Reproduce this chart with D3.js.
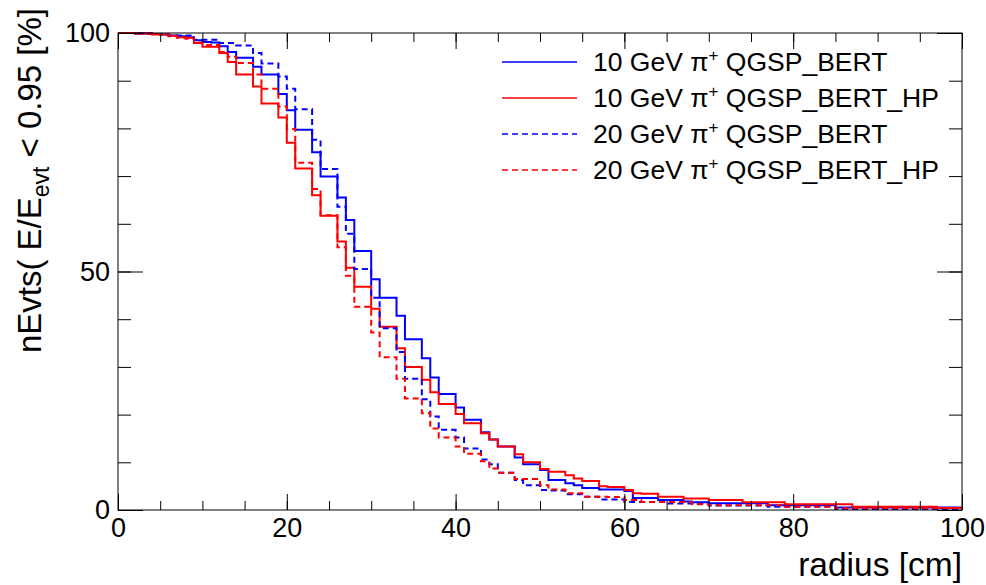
<html>
<head>
<title>nEvts vs radius</title>
<style>
body {
	margin: 0;
	background: white;
	font-family: 'Liberation Sans', Arial, sans-serif;
}
svg text {
	fill: black;
}
.axis path.domain {
	display: none;
}
.axis line {
	stroke: black;
	stroke-width: 1;
}
</style>
</head>
<body>
<svg width="986" height="585"></svg>
<script src="https://d3js.org/d3.v7.min.js"></script>
<script>
// bin lower edges, 1 cm wide, plus the closing edge at 100
const binEdges = d3.range(0, 101);

const xMajor = [0, 20, 40, 60, 80, 100];
const xMinor = d3.range(0, 101, 5);
const yMajor = [0, 50, 100];
const yMinor = d3.range(0, 101, 10);

// 10 GeV pi+ QGSP_BERT
const bert10 = [
	100, 100, 99.9, 99.9, 99.8, 99.7, 99.5, 99.3, 99.1, 98.5,
	98.1, 98.0, 97.2, 96.0, 94.8, 94.8, 92.9, 91.3, 91.3, 87.2,
	83.8, 79.7, 79.7, 75.0, 69.9, 69.9, 65.5, 60.8, 54.3, 54.3,
	48.4, 44.5, 44.5, 40.7, 35.8, 35.8, 31.8, 27.8, 24.3, 24.3,
	21.5, 18.9, 18.9, 16.3, 14.8, 13.3, 13.3, 11.0, 9.6, 9.6,
	8.4, 6.3, 6.3, 5.6, 5.2, 4.6, 4.6, 4.3, 4.3, 4.3,
	4.0, 2.5, 2.5, 2.5, 2.1, 2.1, 2.1, 1.8, 1.6, 1.6,
	1.4, 1.4, 1.4, 1.4, 1.4, 1.4, 1.4, 1.0, 1.0, 1.0,
	1.0, 1.0, 1.0, 1.0, 1.0, 0.5, 0.5, 0.5, 0.5, 0.5,
	0.5, 0.5, 0.5, 0.5, 0.5, 0.5, 0.5, 0.5, 0.5, 0.5
];
// 10 GeV pi+ QGSP_BERT_HP
const hp10 = [
	100, 100, 99.9, 99.9, 99.7, 99.7, 99.4, 99.1, 99.0, 97.9,
	97.1, 97.1, 95.8, 93.9, 91.3, 91.3, 88.8, 85.2, 85.2, 82.3,
	77.0, 71.6, 71.6, 66.0, 61.7, 61.7, 56.3, 50.8, 46.8, 46.8,
	42.2, 38.4, 38.4, 33.9, 30.0, 30.0, 27.3, 24.7, 22.2, 22.2,
	20.1, 18.2, 18.2, 16.1, 14.8, 13.3, 13.3, 11.7, 10.0, 10.0,
	8.6, 8.0, 8.0, 7.3, 6.6, 6.1, 6.1, 5.0, 4.8, 4.8,
	4.2, 3.5, 3.4, 3.4, 2.8, 2.8, 2.8, 2.4, 2.4, 2.4,
	2.1, 2.1, 2.1, 2.1, 1.6, 1.6, 1.6, 1.6, 1.6, 1.2,
	1.2, 1.2, 1.2, 1.2, 1.2, 1.2, 1.2, 0.7, 0.7, 0.7,
	0.7, 0.7, 0.7, 0.7, 0.7, 0.7, 0.7, 0.4, 0.4, 0.4
];
// 20 GeV pi+ QGSP_BERT
const bert20 = [
	100, 100, 100, 99.9, 99.8, 99.7, 99.5, 99.5, 99.5, 98.6,
	98.6, 98.6, 97.9, 97.9, 97.4, 97.4, 95.8, 93.6, 93.6, 90.9,
	88.3, 84.0, 84.0, 77.6, 71.5, 71.5, 63.6, 57.9, 50.5, 50.5,
	44.5, 38.1, 38.1, 33.1, 27.5, 27.5, 23.2, 19.6, 16.8, 16.8,
	15.2, 12.9, 12.9, 10.6, 9.6, 7.8, 7.8, 6.3, 5.2, 5.2,
	4.2, 4.1, 4.1, 3.3, 3.3, 2.8, 2.8, 2.2, 2.2, 2.2,
	1.7, 1.7, 1.7, 1.7, 1.7, 1.35, 1.35, 1.35, 1.35, 1.35,
	0.95, 0.95, 0.95, 0.95, 0.95, 0.95, 0.95, 0.7, 0.7, 0.7,
	0.7, 0.7, 0.7, 0.7, 0.7, 0.2, 0.2, 0.2, 0.2, 0.2,
	0.2, 0.2, 0.2, 0.2, 0.2, 0.2, 0.2, 0.2, 0.2, 0.2
];
// 20 GeV pi+ QGSP_BERT_HP
const hp20 = [
	100, 100, 99.9, 99.9, 99.8, 99.6, 99.3, 99.0, 98.8, 98.0,
	97.5, 97.5, 96.0, 95.0, 93.7, 93.7, 91.3, 88.3, 88.3, 84.6,
	79.9, 72.8, 72.8, 67.3, 61.8, 61.8, 55.1, 49.1, 42.6, 42.6,
	37.2, 32.0, 32.0, 27.5, 23.4, 23.4, 20.3, 17.1, 15.2, 15.2,
	13.3, 11.8, 11.8, 10.2, 8.7, 7.8, 7.8, 6.5, 6.5, 6.5,
	5.2, 4.3, 4.3, 3.5, 3.5, 2.8, 2.8, 2.8, 2.7, 2.7,
	2.1, 2.1, 1.7, 1.7, 1.7, 1.7, 1.7, 1.7, 1.2, 1.2,
	1.0, 1.0, 1.0, 1.0, 1.0, 1.0, 1.0, 1.0, 1.0, 0.7,
	0.7, 0.7, 0.7, 0.7, 0.7, 0.35, 0.35, 0.35, 0.35, 0.35,
	0.35, 0.35, 0.35, 0.35, 0.35, 0.35, 0.35, 0.35, 0.35, 0.35
];

const seriesNames = ["10 GeV π", "10 GeV π", "20 GeV π", "20 GeV π"];
const seriesTails = [" QGSP_BERT", " QGSP_BERT_HP", " QGSP_BERT", " QGSP_BERT_HP"];
const seriesData = [bert10, hp10, bert20, hp20];
const seriesColors = ["#0000ff", "#ff0000", "#0000ff", "#ff0000"];
const seriesDash = [null, null, "6,4", "6,4"];

let svg = d3.select("svg");
let x = d3.scaleLinear().domain([0, 100]).range([118, 962]);
let y = d3.scaleLinear().domain([0, 100]).range([510, 33]);

// histogram outlines
let step = d3.line()
	.x(function(d, i) { return x(binEdges[i]); })
	.y(function(d) { return y(d); })
	.curve(d3.curveStepAfter);

seriesData.forEach(function(vals, k) {
	svg.append("path")
		.datum(vals.concat([vals[vals.length - 1]]))
		.attr("d", step)
		.attr("fill", "none")
		.attr("stroke", seriesColors[k])
		.attr("stroke-width", 2)
		.attr("stroke-dasharray", seriesDash[k]);
});

// frame
svg.append("rect")
	.attr("x", x(0)).attr("y", y(100))
	.attr("width", x(100) - x(0)).attr("height", y(0) - y(100))
	.attr("fill", "none").attr("stroke", "black").attr("stroke-width", 1);

// axes, ticks pointing inwards, mirrored on top and right
function addAxis(axis, tx, ty, labels) {
	let g = svg.append("g").attr("class", "axis")
		.attr("transform", "translate(" + tx + "," + ty + ")")
		.call(axis);
	if (!labels) g.selectAll("text").remove();
	return g;
}
addAxis(d3.axisBottom(x).tickValues(xMinor).tickSize(-9), 0, y(0), false);
addAxis(d3.axisTop(x).tickValues(xMinor).tickSize(-9), 0, y(100), false);
addAxis(d3.axisTop(x).tickValues(xMajor).tickSize(-16), 0, y(100), false);
let gx = addAxis(d3.axisBottom(x).tickValues(xMajor).tickSize(-16).tickPadding(8), 0, y(0), true);

addAxis(d3.axisLeft(y).tickValues(yMinor).tickSize(-13), x(0), 0, false);
addAxis(d3.axisRight(y).tickValues(yMinor).tickSize(-13), x(100), 0, false);
addAxis(d3.axisRight(y).tickValues(yMajor).tickSize(-25), x(100), 0, false);
let gy = addAxis(d3.axisLeft(y).tickValues(yMajor).tickSize(-25).tickPadding(8), x(0), 0, true);

svg.selectAll(".axis text")
	.style("font-family", "'Liberation Sans', Arial, sans-serif")
	.style("font-size", "27px")
	.attr("fill", "black");

// axis titles
svg.append("text")
	.attr("x", x(100)).attr("y", 576)
	.attr("text-anchor", "end")
	.style("font-size", "33.5px")
	.text("radius [cm]");

let yt = svg.append("text")
	.attr("transform", "translate(41,8) rotate(-90)")
	.attr("text-anchor", "end")
	.style("font-size", "33px");
yt.append("tspan").text("nEvts( E/E");
yt.append("tspan").attr("dy", 8).style("font-size", "23px").text("evt");
yt.append("tspan").attr("dy", -8).attr("dx", 9).text("< 0.95 [%]");

// legend
let legend = svg.append("g");
seriesData.forEach(function(vals, k) {
	let ly = 62 + k * 36;
	legend.append("line")
		.attr("x1", 502).attr("x2", 577)
		.attr("y1", ly).attr("y2", ly)
		.attr("stroke", seriesColors[k])
		.attr("stroke-width", 1.5)
		.attr("stroke-dasharray", seriesDash[k]);
	let t = legend.append("text")
		.attr("x", 593).attr("y", ly + 9)
		.style("font-size", "26.5px");
	t.append("tspan").text(seriesNames[k]);
	t.append("tspan").attr("dy", -10).style("font-size", "17px").text("+");
	t.append("tspan").attr("dy", 10).text(seriesTails[k]);
});
</script>
</body>
</html>
